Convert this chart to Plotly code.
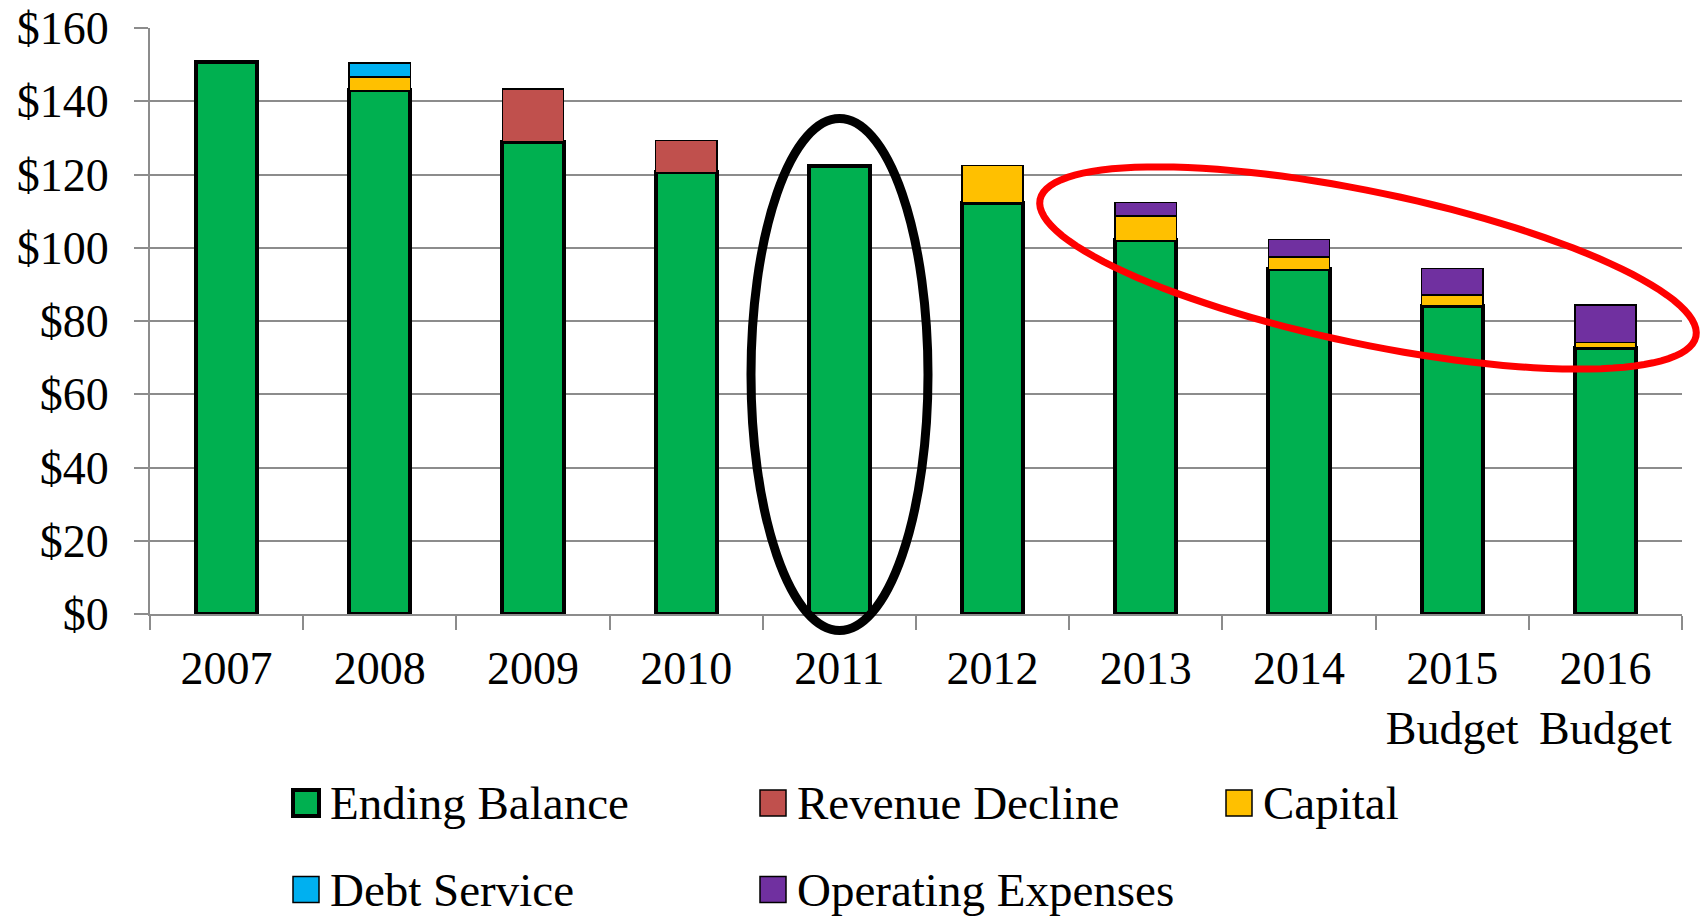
import math
import plotly.graph_objects as go

# ---------------- data ----------------
categories = ["2007", "2008", "2009", "2010", "2011", "2012", "2013", "2014",
              "2015<br>Budget", "2016<br>Budget"]
ending_balance = [150.6, 143.0, 129.0, 120.6, 122.4, 112.2, 102.0, 94.1, 84.2, 72.6]
revenue_decline = [None, None, 14.4, 8.7, None, None, None, None, None, None]
capital = [None, 3.6, None, None, None, 10.2, 6.7, 3.4, 2.9, 1.5]
debt_service = [None, 3.9, None, None, None, None, None, None, None, None]
operating_expenses = [None, None, None, None, None, None, 3.7, 4.7, 7.2, 10.3]
y_tick_values = [0, 20, 40, 60, 80, 100, 120, 140, 160]
y_tick_labels = ["$0", "$20", "$40", "$60", "$80", "$100", "$120", "$140", "$160"]

series_names = ["Ending Balance", "Revenue Decline", "Capital", "Debt Service", "Operating Expenses"]
series_values = [ending_balance, revenue_decline, capital, debt_service, operating_expenses]
series_colors = ["#00B050", "#C0504D", "#FFC000", "#00B0F0", "#7030A0"]
series_line_widths = [4, 1.5, 1.5, 1.5, 1.5]

# ---------------- layout geometry (page pixels) ----------------
W, H = 1704, 916
PLOT_L, PLOT_R, PLOT_T, PLOT_B = 150, 1682, 28, 614
L, T, R, B = PLOT_L, PLOT_T, W - PLOT_R, H - PLOT_B
PW, PH = PLOT_R - PLOT_L, PLOT_B - PLOT_T
FONT = "Times New Roman, Liberation Serif, serif"


def px_to_paper(px, py):
    return (px - PLOT_L) / PW, (PLOT_B - py) / PH


fig = go.Figure()
for name, vals, col, lw in zip(series_names, series_values, series_colors, series_line_widths):
    fig.add_trace(go.Bar(
        x=categories, y=vals, name=name,
        marker=dict(color=col, line=dict(color="black", width=lw)),
        showlegend=False,
    ))

shapes = []
annotations = []

# ---------------- manual legend ----------------
legend_rows = [[0, 1, 2], [3, 4]]
row_centers = [803, 889.5]
col_lefts = [292, 759, 1225]
sym = 26
for r, idxs in enumerate(legend_rows):
    cy = row_centers[r]
    for c, i in enumerate(idxs):
        x0 = col_lefts[c] + 1
        fx0, fy0 = px_to_paper(x0, cy + sym / 2)
        fx1, fy1 = px_to_paper(x0 + sym, cy - sym / 2)
        shapes.append(dict(type="rect", xref="paper", yref="paper",
                           x0=fx0, y0=fy0, x1=fx1, y1=fy1,
                           fillcolor=series_colors[i],
                           line=dict(color="black", width=series_line_widths[i])))
        tx, ty = px_to_paper(col_lefts[c] + 36, cy)
        annotations.append(dict(xref="paper", yref="paper", x=tx, y=ty,
                                xanchor="left", yanchor="middle", showarrow=False,
                                text=series_names[i],
                                font=dict(family=FONT, size=47, color="black")))

# ---------------- highlight ellipses ----------------
bx0, by0 = px_to_paper(751, 630.5)
bx1, by1 = px_to_paper(928, 118.5)
shapes.append(dict(type="circle", xref="paper", yref="paper",
                   x0=bx0, y0=by0, x1=bx1, y1=by1,
                   line=dict(color="black", width=9), layer="above"))

cx, cy, a, b, th = 1368, 268, 335, 76, math.radians(11.8)
pts = []
n = 120
for k in range(n):
    t = 2 * math.pi * k / n
    px = cx + a * math.cos(t) * math.cos(th) - b * math.sin(t) * math.sin(th)
    py = cy + a * math.cos(t) * math.sin(th) + b * math.sin(t) * math.cos(th)
    fx, fy = px_to_paper(px, py)
    pts.append(f"{fx:.5f},{fy:.5f}")
path = "M" + " L".join(pts) + " Z"
shapes.append(dict(type="path", xref="paper", yref="paper", path=path,
                   line=dict(color="#FF0000", width=7), layer="above"))

fig.update_layout(
    width=W, height=H,
    margin=dict(l=L, r=R, t=T, b=B, autoexpand=False),
    barmode="stack", bargap=0.6,
    plot_bgcolor="white", paper_bgcolor="white",
    font=dict(family=FONT, size=46, color="black"),
    shapes=shapes, annotations=annotations,
    showlegend=False,
)
fig.update_xaxes(
    type="category", range=[-0.5, 9.5],
    showline=True, linecolor="#8c8c8c", linewidth=2,
    ticks="outside", tickson="boundaries", ticklen=14, tickcolor="#8c8c8c", tickwidth=2,
    showgrid=False, tickfont=dict(family=FONT, size=46, color="black"),
    ticklabelstandoff=13, automargin=False, ticklabeloverflow="allow",
)
fig.update_yaxes(
    range=[0, 160], tickmode="array", tickvals=y_tick_values, ticktext=y_tick_labels,
    showline=True, linecolor="#8c8c8c", linewidth=2,
    ticks="outside", ticklen=14, tickcolor="#8c8c8c", tickwidth=2,
    showgrid=True, gridcolor="#8c8c8c", gridwidth=2, zeroline=False,
    tickfont=dict(family=FONT, size=46, color="black"),
    ticklabelstandoff=16, automargin=False, ticklabeloverflow="allow",
)

fig.write_html(
    "out.html",
    config={"displayModeBar": False},
    post_script="document.body.style.margin='0';document.body.style.overflow='hidden';",
)
